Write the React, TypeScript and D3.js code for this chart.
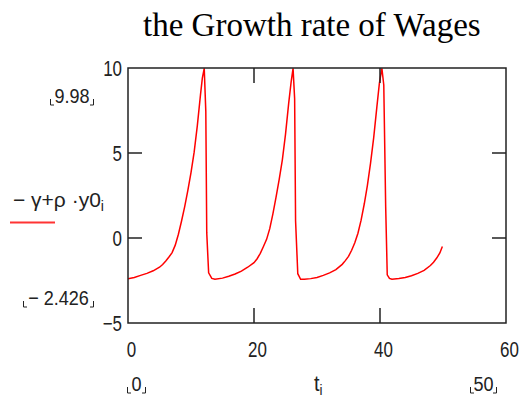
import React from "react";
import * as d3 from "d3";

const title = "the Growth rate of Wages";
const tValues = [0,1,2,3,4,5,5.5,6,6.5,7,7.5,8,8.5,9,9.5,10,10.5,11,11.5,11.8,12.1,12.35,12.5,12.8,13.3,13.8,
  15,16,17,18,19,20,20.5,21,21.5,22,22.5,23,23.5,24,24.5,25,25.5,25.9,26.2,26.45,26.6,26.95,27.4,
  28,29,30,31,32,33,34,34.5,35,35.5,36,36.5,37,37.5,38,38.5,39,39.5,39.9,40.3,40.6,40.9,41.15,41.5,41.9,
  43,44,45,46,47,48,48.5,49,49.5,49.9];
const yValues = [-2.40,-2.32,-2.20,-2.08,-1.93,-1.72,-1.56,-1.35,-1.12,-0.86,-0.42,0.22,1.00,1.85,2.80,3.85,5.05,6.60,8.40,9.40,9.98,7.45,0.30,-2.05,-2.38,-2.43,
  -2.36,-2.25,-2.12,-1.95,-1.72,-1.45,-1.22,-0.90,-0.50,-0.08,0.55,1.42,2.40,3.45,4.60,6.10,7.90,9.20,9.98,8.20,1.00,-2.10,-2.43,
  -2.42,-2.39,-2.32,-2.20,-2.05,-1.86,-1.55,-1.33,-1.08,-0.72,-0.28,0.28,1.05,2.00,3.10,4.40,5.90,7.70,9.10,9.98,9.00,1.86,-2.17,-2.38,-2.43,
  -2.38,-2.32,-2.22,-2.08,-1.90,-1.62,-1.42,-1.18,-0.88,-0.50];
const xTicks = [0, 20, 40, 60];
const yTicks = [-5, 0, 5, 10];
const xDomain = [0, 60];
const yDomain = [-5, 10];
const yMaxLabel = "9.98";
const yMinLabel = "\u2212 2.426";
const xMinLabel = "0";
const xMaxLabel = "50";
const legendLabel = "\u2212 \u03b3+\u03c1 \u00b7y0";
const xAxisLabel = "t";

const W = 519, H = 398;
const L = 128, R = 506, T = 68, B = 323;
const FONT = "'Liberation Sans', Arial, sans-serif";
const INK = "#222";

function NText({ x, y, anchor = "start", size = 21, sx = 0.77, children }: any) {
  return (
    <text transform={`translate(${x},${y}) scale(${sx},1)`} textAnchor={anchor}
      fontFamily={FONT} fontSize={size} fill={INK}>{children}</text>
  );
}

function Bracketed({ x0, x1, y, text }: { x0: number; x1: number; y: number; text: string }) {
  const b = y + 2;
  return (
    <g>
      <path d={`M${x0 + 0.5},${b - 6}V${b}H${x0 + 4}`} fill="none" stroke={INK} strokeWidth={1} />
      <NText x={(x0 + x1) / 2} y={y} anchor="middle" size={21} sx={0.86}>{text}</NText>
      <path d={`M${x1 - 4},${b}H${x1 - 0.5}V${b - 6}`} fill="none" stroke={INK} strokeWidth={1} />
    </g>
  );
}

export default function App() {
  const x = d3.scaleLinear().domain(xDomain).range([L, R]);
  const y = d3.scaleLinear().domain(yDomain).range([B, T]);
  const pts: [number, number][] = tValues.map((t, i) => [t, yValues[i]]);
  const line = d3.line<[number, number]>().x(d => x(d[0])).y(d => y(d[1]));

  return (
    <svg width={W} height={H} style={{ position: "absolute", left: 0, top: 0, background: "#fff" }}>
      <text x={143} y={36} fontFamily="'Liberation Serif', 'Times New Roman', serif" fontSize={33} fill="#000">{title}</text>

      <defs>
        <clipPath id="plot"><rect x={L} y={T - 1} width={R - L} height={B - T + 2} /></clipPath>
      </defs>
      <path d={line(pts) || ""} fill="none" stroke="#ff0000" strokeWidth={1.5} clipPath="url(#plot)" />

      <rect x={L} y={T} width={R - L} height={B - T} fill="none" stroke={INK} strokeWidth={1.5} />
      {yTicks.filter(v => v > yDomain[0] && v < yDomain[1]).map(v => (
        <g key={"yt" + v}>
          <line x1={L} x2={L + 14} y1={y(v)} y2={y(v)} stroke={INK} strokeWidth={1.5} />
          <line x1={R} x2={R - 14} y1={y(v)} y2={y(v)} stroke={INK} strokeWidth={1.5} />
        </g>
      ))}
      {xTicks.filter(v => v > xDomain[0] && v < xDomain[1]).map(v => (
        <g key={"xt" + v}>
          <line x1={x(v)} x2={x(v)} y1={T} y2={T + 15} stroke={INK} strokeWidth={1.5} />
          <line x1={x(v)} x2={x(v)} y1={B} y2={B - 15} stroke={INK} strokeWidth={1.5} />
        </g>
      ))}

      {yTicks.map(v => (
        <NText key={"yl" + v} x={122} y={y(v) + 8} anchor="end" size={22}>
          {v < 0 ? "\u2212" + Math.abs(v) : String(v)}
        </NText>
      ))}
      {xTicks.map(v => (
        <NText key={"xl" + v} x={x(v) + 3.5} y={357} anchor="middle" size={22}>
          {String(v)}
        </NText>
      ))}

      <Bracketed x0={50} x1={94} y={103} text={yMaxLabel} />
      <Bracketed x0={23} x1={94} y={305} text={yMinLabel} />
      <Bracketed x0={127} x1={146} y={391} text={xMinLabel} />
      <Bracketed x0={470} x1={497} y={391} text={xMaxLabel} />

      <NText x={13} y={207} size={21} sx={1}>
        {legendLabel}
        <tspan fontSize={14} dy={4}>i</tspan>
      </NText>
      <line x1={10} x2={55} y1={222.5} y2={222.5} stroke="#ff3333" strokeWidth={2} />

      <NText x={314} y={391} size={22} sx={0.9}>
        {xAxisLabel}<tspan fontSize={15} dy={4}>i</tspan>
      </NText>
    </svg>
  );
}
